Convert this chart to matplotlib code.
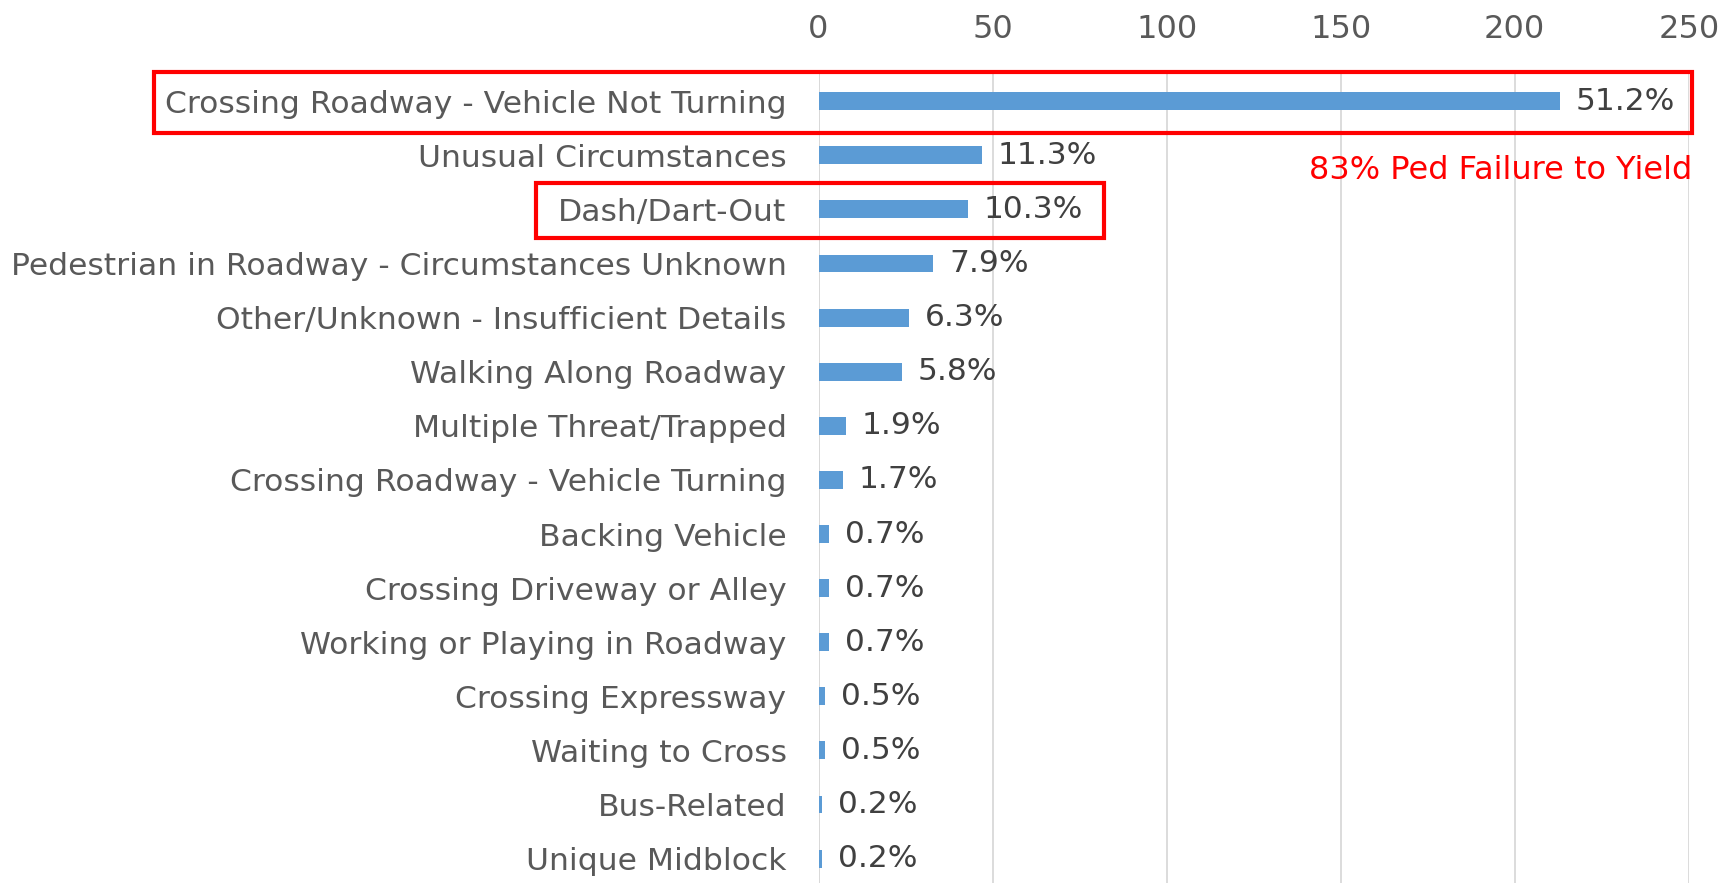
import matplotlib.pyplot as plt
from matplotlib.patches import Rectangle

categories = [
    "Crossing Roadway - Vehicle Not Turning",
    "Unusual Circumstances",
    "Dash/Dart-Out",
    "Pedestrian in Roadway - Circumstances Unknown",
    "Other/Unknown - Insufficient Details",
    "Walking Along Roadway",
    "Multiple Threat/Trapped",
    "Crossing Roadway - Vehicle Turning",
    "Backing Vehicle",
    "Crossing Driveway or Alley",
    "Working or Playing in Roadway",
    "Crossing Expressway",
    "Waiting to Cross",
    "Bus-Related",
    "Unique Midblock",
]
counts = [213, 47, 43, 33, 26, 24, 8, 7, 3, 3, 3, 2, 2, 1, 1]
pct_labels = ["51.2%", "11.3%", "10.3%", "7.9%", "6.3%", "5.8%", "1.9%", "1.7%",
              "0.7%", "0.7%", "0.7%", "0.5%", "0.5%", "0.2%", "0.2%"]
xticks = [0, 50, 100, 150, 200, 250]

plt.rcParams['font.family'] = ['DejaVu Sans']

fig = plt.figure(figsize=(17.25, 8.83), dpi=100)
ax = fig.add_axes([0.4745, -0.003, 0.5045, 0.919])

y = list(range(len(categories)))
ax.barh(y, counts, height=0.33, color='#5b9bd5', zorder=3)
ax.set_ylim(len(categories) - 0.5, -0.5)
ax.set_xlim(0, 250)

for yi, c, lab in zip(y, counts, pct_labels):
    ax.text(c + 4.5, yi, lab, va='center', ha='left', fontsize=22.5, color='#404040', zorder=4)

ax.set_yticks(y)
ax.set_yticklabels(categories, fontsize=22.6, color='#595959')
ax.set_xticks(xticks)
ax.set_xticklabels([str(t) for t in xticks], fontsize=23, color='#595959')
ax.xaxis.tick_top()
ax.tick_params(axis='both', length=0)
ax.tick_params(axis='y', pad=23)
ax.tick_params(axis='x', pad=21)
ax.grid(axis='x', color='#d9d9d9', linewidth=1.3, zorder=0)
for s in ax.spines.values():
    s.set_visible(False)
ax.axvline(0, color='#d9d9d9', linewidth=1.3, zorder=1)

# highlight boxes
fig.patches.append(Rectangle((0.0893, 0.849), 0.981 - 0.0893, 0.918 - 0.849, transform=fig.transFigure,
                             fill=False, edgecolor='#ff0000', linewidth=3, zorder=10))
fig.patches.append(Rectangle((0.311, 0.731), 0.640 - 0.311, 0.793 - 0.731, transform=fig.transFigure,
                             fill=False, edgecolor='#ff0000', linewidth=3, zorder=10))
fig.text(0.981, 0.807, "83% Ped Failure to Yield", ha='right', va='center', fontsize=23, color='#ff0000')

plt.savefig('out.png', dpi=100)
